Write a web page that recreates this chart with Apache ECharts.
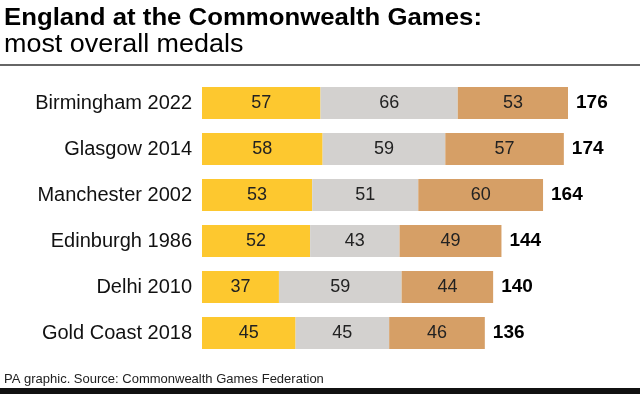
<!DOCTYPE html>
<html><head><meta charset="utf-8">
<script src="https://cdn.jsdelivr.net/npm/echarts@6/dist/echarts.min.js"></script>
<style>html,body{margin:0;padding:0;background:#fff}#c{width:640px;height:394px}</style>
</head><body><div id="c"></div>
<script>
const categories = ["Birmingham 2022","Glasgow 2014","Manchester 2002","Edinburgh 1986","Delhi 2010","Gold Coast 2018"];
const gold = [57,58,53,52,37,45];
const silver = [66,59,51,43,59,45];
const bronze = [53,57,60,49,44,46];
const totals = [176,174,164,144,140,136];

const FONT = "'Liberation Sans', Arial, sans-serif";
const chart = echarts.init(document.getElementById('c'), null, {renderer:'canvas'});
const inLabel = {show:true, position:'inside', color:'#222', fontSize:18, fontFamily:FONT};
chart.setOption({
  animation:false,
  backgroundColor:'#fff',
  grid:{left:202, right:72, top:80, height:276, containLabel:false},
  xAxis:{type:'value', min:0, max:176, show:false},
  yAxis:{type:'category', data:categories, inverse:true,
    axisLine:{show:false}, axisTick:{show:false},
    axisLabel:{color:'#111', fontSize:20, fontFamily:FONT, margin:10}},
  series:[
    {type:'bar', stack:'m', data:gold, barCategoryGap:'30%', itemStyle:{color:'#FDC82F'}, label:inLabel},
    {type:'bar', stack:'m', data:silver, itemStyle:{color:'#D3D1CF'}, label:inLabel},
    {type:'bar', stack:'m', data:bronze, itemStyle:{color:'#D69F66'}, label:inLabel},
    {type:'bar', stack:'m', data:totals.map(()=>0), itemStyle:{color:'transparent'},
     label:{show:true, position:'right', distance:8, color:'#000', fontWeight:'bold', fontSize:19, fontFamily:FONT,
       formatter:(p)=>String(totals[p.dataIndex])}}
  ],
  graphic:[
    {type:'text', x:4, y:7, scaleX:1.096, style:{text:'England at the Commonwealth Games:', fill:'#000', font:"bold 23.5px "+FONT, verticalAlign:'top'}},
    {type:'text', x:4, y:33, scaleX:1.077, style:{text:'most overall medals', fill:'#000', font:"25px "+FONT, verticalAlign:'top'}},
    {type:'rect', shape:{x:0, y:64, width:640, height:2}, style:{fill:'#666'}},
    {type:'text', x:4, y:373, style:{text:'PA graphic. Source: Commonwealth Games Federation', fill:'#222', font:"13px "+FONT, verticalAlign:'top'}},
    {type:'rect', shape:{x:0, y:388, width:640, height:6}, style:{fill:'#111'}}
  ]
});
</script></body></html>
